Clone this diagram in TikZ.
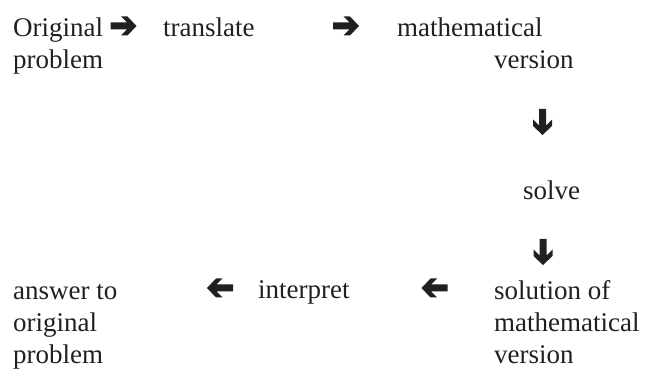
\documentclass[tikz,border=0pt]{standalone}
\usepackage{fontspec}
\setmainfont{Liberation Serif}
\definecolor{ink}{RGB}{35,31,32}
\begin{document}
\begin{tikzpicture}[x=1pt,y=-1pt,
  txt/.style={anchor=base west, inner sep=0pt, align=left, text=ink,
    font=\fontsize{27}{32}\selectfont},
  blk/.pic={\fill[ink] (13,0) -- (4,9.5) -- (-2.5,9.5) -- (3.5,3.5) -- (-13,3.5)
     -- (-13,-3.5) -- (3.5,-3.5) -- (-2.5,-9.5) -- (4,-9.5) -- cycle;}]
\useasboundingbox (0,0) rectangle (646,371);
% texts (base anchor = baseline of the last line)
\node[txt] (orig)   at (13,69)   {Original\\problem};
\node[txt] (transl) at (163,37)  {translate};
\node[txt] (math)   at (397,69)  {mathematical\\\hspace*{97pt}version};
\node[txt] (solve)  at (523,200) {solve};
\node[txt] (sol)    at (494,364) {solution of\\mathematical\\version};
\node[txt] (interp) at (258,299) {interpret};
\node[txt] (ans)    at (13,364)  {answer to\\original\\problem};
% arrows
\coordinate (a1) at (123.5,26);
\coordinate (a2) at (346,26);
\coordinate (d1) at (542.5,122);
\coordinate (d2) at (543,252);
\coordinate (l2) at (434.5,288);
\coordinate (l1) at (220,288);
\pic at (a1) {blk};
\pic at (a2) {blk};
\pic[rotate=-90] at (d1) {blk};
\pic[rotate=-90] at (d2) {blk};
\pic[rotate=180] at (l2) {blk};
\pic[rotate=180] at (l1) {blk};
\end{tikzpicture}
\end{document}
